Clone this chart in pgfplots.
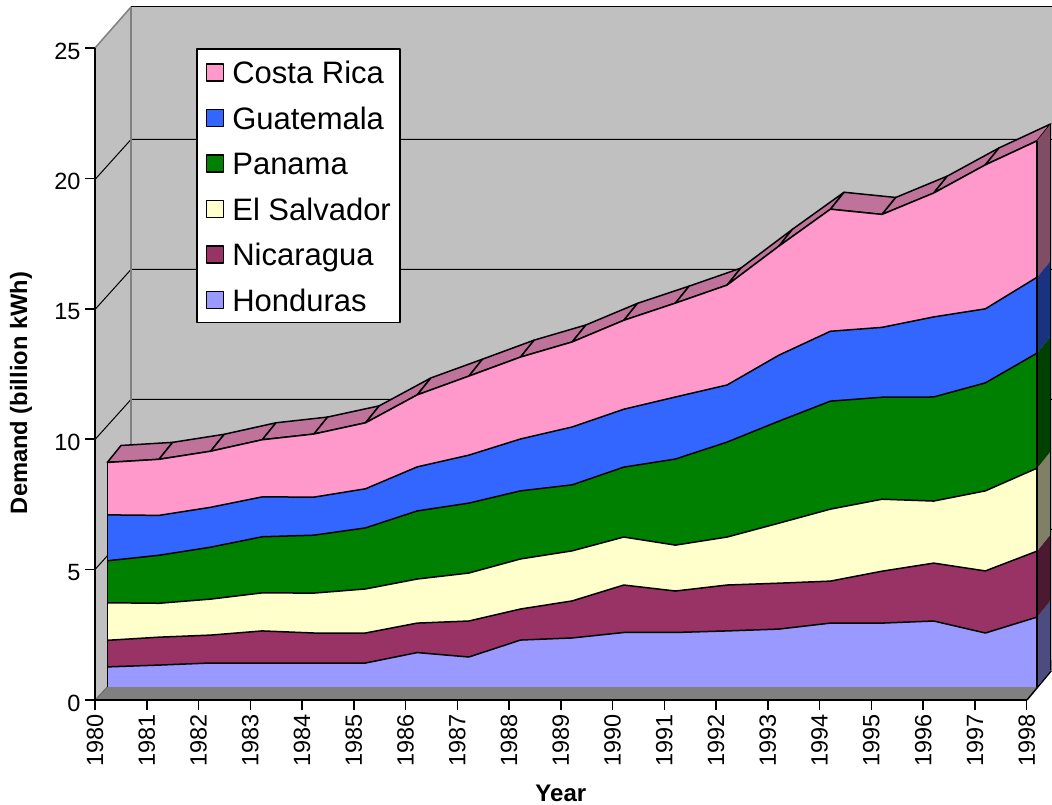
\documentclass[border=0pt]{standalone}
\usepackage{fontspec}
\setmainfont{Liberation Sans}
\usepackage{pgfplots}
\usepackage{pgfplotstable}
\pgfplotsset{compat=1.18}

\definecolor{wall}{HTML}{C0C0C0}
\definecolor{floorgrey}{HTML}{808080}
\definecolor{hon}{HTML}{9999FF}
\definecolor{nic}{HTML}{993366}
\definecolor{sal}{HTML}{FFFFCC}
\definecolor{pan}{HTML}{008000}
\definecolor{gua}{HTML}{3366FF}
\definecolor{cri}{HTML}{FF99CC}
\definecolor{critop}{HTML}{C0739A}
\definecolor{honside}{HTML}{4C4C80}
\definecolor{nicside}{HTML}{4C1933}
\definecolor{salside}{HTML}{808066}
\definecolor{panside}{HTML}{004000}
\definecolor{guaside}{HTML}{1A3380}
\definecolor{criside}{HTML}{804C66}

% Electricity demand by country, billion kWh
\pgfplotstableread{
year hon nic sal pan gua cri
1980 0.77 1.02 1.44 1.61 1.76 2.01
1981 0.84 1.07 1.30 1.84 1.53 2.15
1982 0.92 1.07 1.38 1.99 1.53 2.15
1983 0.92 1.23 1.46 2.15 1.53 2.19
1984 0.92 1.15 1.53 2.22 1.46 2.42
1985 0.92 1.15 1.69 2.34 1.50 2.53
1986 1.32 1.13 1.69 2.61 1.69 2.76
1987 1.15 1.38 1.84 2.68 1.84 3.03
1988 1.80 1.19 1.92 2.61 1.99 3.14
1989 1.88 1.42 1.92 2.53 2.22 3.26
1990 2.09 1.82 1.84 2.68 2.22 3.41
1991 2.09 1.59 1.76 3.30 2.38 3.60
1992 2.15 1.76 1.84 3.64 2.19 3.83
1993 2.22 1.76 2.30 3.91 2.53 4.18
1994 2.45 1.61 2.76 4.14 2.68 4.68
1995 2.45 1.99 2.76 3.91 2.68 4.33
1996 2.53 2.22 2.38 3.99 3.07 4.75
1997 2.07 2.38 3.07 4.14 2.84 5.52
1998 2.68 2.53 3.18 4.41 2.91 5.23
}\demand
\pgfplotstablecreatecol[expr={\thisrow{hon}}]{c1}\demand
\pgfplotstablecreatecol[expr={\thisrow{c1}+\thisrow{nic}}]{c2}\demand
\pgfplotstablecreatecol[expr={\thisrow{c2}+\thisrow{sal}}]{c3}\demand
\pgfplotstablecreatecol[expr={\thisrow{c3}+\thisrow{pan}}]{c4}\demand
\pgfplotstablecreatecol[expr={\thisrow{c4}+\thisrow{gua}}]{c5}\demand
\pgfplotstablecreatecol[expr={\thisrow{c5}+\thisrow{cri}}]{c6}\demand

% depth of the area slab, in data units
\def\dx{0.265}
\def\dy{0.65}

\begin{document}
\begin{tikzpicture}[line join=round]
\path[use as bounding box] (0pt,0pt) rectangle (1052pt,805pt);

% side wall, back wall and floor of the box
\fill[wall] (95pt,757pt) -- (131pt,798pt) -- (131pt,145pt) -- (95pt,105pt) -- cycle;
\fill[wall] (131pt,798pt) -- (1052pt,798pt) -- (1052pt,145pt) -- (131pt,145pt) -- cycle;
\fill[floorgrey] (95pt,105pt) -- (1027pt,105pt) -- (1052pt,134pt) -- (1052pt,145pt) -- (131pt,145pt) -- cycle;
\foreach \yb in {275.5,405.5,535.5,665.5}{
  \draw[black,line width=1pt] (95pt,\yb pt-40pt) -- (131pt,\yb pt) -- (1052pt,\yb pt);
}
\draw[floorgrey,line width=1.5pt] (131pt,145pt) -- (131pt,798pt);
\draw[floorgrey,line width=1.5pt] (95pt,757pt) -- (131pt,798pt);
\draw[black,line width=1pt] (131pt,798pt) -- (1052pt,798pt);
\draw[black!60,line width=0.8pt] (95pt,105pt) -- (107.3pt,118pt);
\draw[black,line width=1.5pt] (1027pt,105pt) -- (1051pt,134pt);

\begin{axis}[
  at={(95pt,105pt)}, anchor=south west,
  x=51.76pt, y=26.08pt,
  xmin=1980, xmax=1998, ymin=0, ymax=25,
  axis lines*=left,
  axis on top,
  axis line style={line width=2pt,black},
  tick style={line width=1.5pt,black},
  tick align=outside,
  major tick length=10pt,
  xtick={1980,1981,...,1998},
  ytick={0,5,10,15,20,25},
  /pgf/number format/1000 sep={},
  /pgf/number format/assume math mode=true,
  tick label style={font=\fontsize{23.5}{25}\selectfont},
  xticklabel style={rotate=90,anchor=east,xshift=-1pt},
  yticklabel style={xshift=-1pt,yshift=-3pt},
  xlabel={Year},
  ylabel={Demand (billion kWh)},
  every axis x label/.style={at={(axis description cs:0.5,-0.1426)},anchor=center,font=\fontsize{24}{26}\bfseries\selectfont},
  every axis y label/.style={at={(axis description cs:-0.0794,0.4709)},rotate=90,anchor=center,font=\fontsize{23.7}{26}\bfseries\selectfont},
]
\end{axis}

\begin{axis}[
  at={(107.3pt,118pt)}, anchor=south west,
  x=51.65pt, y=26.08pt,
  xmin=1980, xmax=1998, ymin=0, ymax=25,
  hide axis, clip=false,
  legend style={
    at={(0.0955,0.98)}, anchor=north west,
    draw=black, line width=1.5pt, fill=white,
    font=\fontsize{31}{33}\selectfont,
    row sep=19.5pt, column sep=8pt,
    inner xsep=9pt, inner ysep=10pt,
    nodes={inner sep=0pt,text height=25pt,text depth=1pt},
  },
  legend cell align=left,
  legend image code/.code={
    \draw[#1,draw=black,line width=1.5pt] (0pt,-9pt) rectangle (17pt,8pt);
  },
]
% top faces of the slab along the summed series
\pgfplotsforeachungrouped \i in {0,1,...,17}{
  \pgfmathtruncatemacro{\j}{\i+1}
  \pgfplotstablegetelem{\i}{year}\of\demand \let\xa\pgfplotsretval
  \pgfplotstablegetelem{\i}{c6}\of\demand \let\ya\pgfplotsretval
  \pgfplotstablegetelem{\j}{year}\of\demand \let\xb\pgfplotsretval
  \pgfplotstablegetelem{\j}{c6}\of\demand \let\yb\pgfplotsretval
  \pgfmathsetmacro{\xc}{\xb+\dx}
  \pgfmathsetmacro{\yc}{\yb+\dy}
  \pgfmathsetmacro{\xd}{\xa+\dx}
  \pgfmathsetmacro{\yd}{\ya+\dy}
  \edef\face{\noexpand\addplot[fill=critop,draw=black,line width=1.5pt,forget plot]
    coordinates {(\xa,\ya) (\xb,\yb) (\xc,\yc) (\xd,\yd)} -- cycle;}
  \face
}

% right end of the slab
\addplot[fill=honside,draw=none,forget plot] coordinates {(1998,0) (1998,2.68) (1998.265,3.33) (1998.265,0.65)} -- cycle;
\addplot[fill=nicside,draw=none,forget plot] coordinates {(1998,2.68) (1998,5.21) (1998.265,5.86) (1998.265,3.33)} -- cycle;
\addplot[fill=salside,draw=none,forget plot] coordinates {(1998,5.21) (1998,8.39) (1998.265,9.04) (1998.265,5.86)} -- cycle;
\addplot[fill=panside,draw=none,forget plot] coordinates {(1998,8.39) (1998,12.80) (1998.265,13.45) (1998.265,9.04)} -- cycle;
\addplot[fill=guaside,draw=none,forget plot] coordinates {(1998,12.80) (1998,15.71) (1998.265,16.36) (1998.265,13.45)} -- cycle;
\addplot[fill=criside,draw=none,forget plot] coordinates {(1998,15.71) (1998,20.94) (1998.265,21.59) (1998.265,16.36)} -- cycle;
\addplot[black,line width=1.5pt,forget plot] coordinates {(1998.265,0.65) (1998.265,21.59)};

% front of the slab, summed from the top down
\addplot[fill=cri,draw=none] table[x=year,y=c6]{\demand} \closedcycle;
\addplot[fill=gua,draw=none] table[x=year,y=c5]{\demand} \closedcycle;
\addplot[fill=pan,draw=none] table[x=year,y=c4]{\demand} \closedcycle;
\addplot[fill=sal,draw=none] table[x=year,y=c3]{\demand} \closedcycle;
\addplot[fill=nic,draw=none] table[x=year,y=c2]{\demand} \closedcycle;
\addplot[fill=hon,draw=none] table[x=year,y=c1]{\demand} \closedcycle;
\legend{Costa Rica,Guatemala,Panama,El Salvador,Nicaragua,Honduras}

\addplot[black,line width=1.5pt,forget plot] table[x=year,y=c1]{\demand};
\addplot[black,line width=1.5pt,forget plot] table[x=year,y=c2]{\demand};
\addplot[black,line width=1.5pt,forget plot] table[x=year,y=c3]{\demand};
\addplot[black,line width=1.5pt,forget plot] table[x=year,y=c4]{\demand};
\addplot[black,line width=1.5pt,forget plot] table[x=year,y=c5]{\demand};
\addplot[black,line width=1.5pt,forget plot] table[x=year,y=c6]{\demand};
\addplot[black,line width=1.5pt,forget plot] coordinates {(1980,0) (1980,8.61)};
\addplot[black,line width=1.5pt,forget plot] coordinates {(1998,0) (1998,20.94)};
\end{axis}
\end{tikzpicture}
\end{document}
